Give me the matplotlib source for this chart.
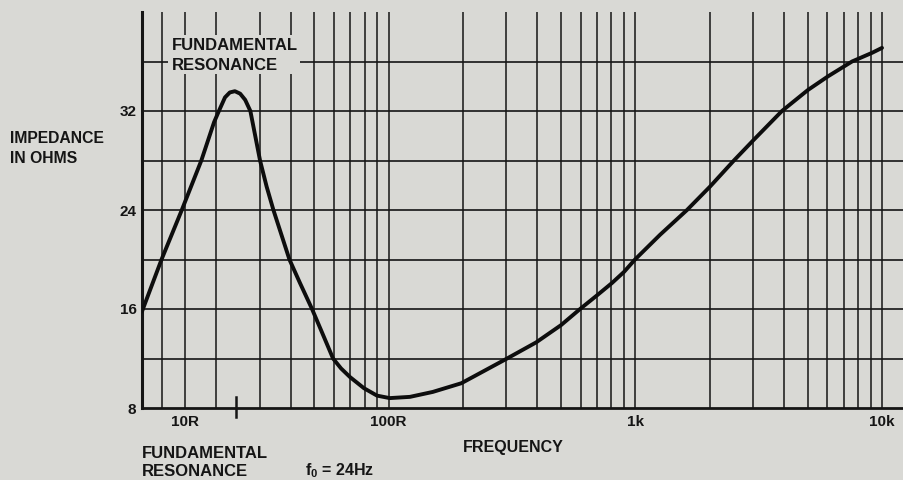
import numpy as np
import matplotlib.pyplot as plt
from matplotlib.patches import Rectangle
from matplotlib.ticker import NullLocator

BG = "#d9d9d5"
INK = "#151515"

# impedance curve (Hz, ohms)
FREQ_HZ = [10, 12.0, 14.5, 17.4, 19.6, 20.5, 21.7, 22.7, 23.8, 25.0, 26.2,
           27.5, 30.1, 32.0, 34.1, 39.6, 43.7, 48.9, 53.7, 59.5, 64.1, 69.7,
           79.4, 89.7, 101, 122, 151, 197, 302, 396, 500, 597, 699, 804, 900,
           997, 1260, 1620, 2010, 2510, 3030, 3930, 5010, 6040, 7560, 9110, 10000]
IMPEDANCE = [15.8, 20, 24, 28, 31.1, 32, 33.1, 33.5, 33.6, 33.4, 32.9,
             32, 28, 25.9, 24, 20, 18.1, 16, 14.1, 12, 11.2, 10.5,
             9.6, 9.0, 8.8, 8.9, 9.3, 10.0, 12, 13.3, 14.7, 16, 17.1, 18.1, 19.0,
             20, 22.0, 24, 25.9, 28, 29.7, 32, 33.7, 34.8, 36, 36.7, 37.1]

GRID_FREQS = [12, 15, 20, 30, 40, 50, 60, 70, 80, 90, 100,
              200, 300, 400, 500, 600, 700, 800, 900, 1000,
              2000, 3000, 4000, 5000, 6000, 7000, 8000, 9000, 10000]
GRID_OHMS = [12, 16, 20, 24, 28, 32, 36]
Y_TICKS = [8, 16, 24, 32]
X_TICKS = [15, 100, 1000, 10000]
X_LABELS = ["10R", "100R", "1k", "10k"]
F0 = 24

W, H = 904, 480
plt.rcParams["font.family"] = ["Liberation Sans", "DejaVu Sans"]
plt.rcParams["font.weight"] = "bold"
plt.rcParams["mathtext.fontset"] = "custom"
plt.rcParams["mathtext.rm"] = "Liberation Sans:bold"
plt.rcParams["mathtext.bf"] = "Liberation Sans:bold"


def label(x, y, s, size):
    # x, y in pixels from the top-left, y is the baseline
    fig.text(x / W, 1 - y / H, s, ha="left", va="baseline", fontsize=size, color=INK)


fig = plt.figure(figsize=(W / 100, H / 100), dpi=100, facecolor=BG)
ax = fig.add_axes([142 / W, 1 - 408 / H, 1 - 142 / W, 396 / H], facecolor=BG)
ax.set_xscale("log")
ax.set_xlim(10, 12280)
ax.set_ylim(8, 40)

for f in GRID_FREQS:
    ax.axvline(f, color=INK, lw=1.1, zorder=1)
for z in GRID_OHMS:
    ax.axhline(z, color=INK, lw=1.2, zorder=1)

ax.plot(FREQ_HZ, IMPEDANCE, color="#0d0d0d", lw=2.8, solid_joinstyle="round",
        solid_capstyle="round", zorder=4)

for s in ["top", "right"]:
    ax.spines[s].set_visible(False)
ax.spines["left"].set_linewidth(2.2)
ax.spines["bottom"].set_linewidth(2.0)
ax.spines["left"].set_color(INK)
ax.spines["bottom"].set_color(INK)

ax.set_yticks(Y_TICKS)
ax.set_yticklabels([str(v) for v in Y_TICKS])
ax.set_xticks(X_TICKS)
ax.set_xticklabels(X_LABELS)
ax.xaxis.set_minor_locator(NullLocator())
ax.tick_params(axis="both", length=0, labelsize=11, colors=INK)
ax.tick_params(axis="y", pad=4)
ax.tick_params(axis="x", pad=5)

# resonance marker on the frequency axis
ax.axvline(F0, ymin=-0.023, ymax=0.028, color=INK, lw=1.8, clip_on=False, zorder=5)

# gap in the grid behind the in-plot caption
ax.add_patch(Rectangle((168 / W, 1 - 74 / H), 132 / W, 39 / H, transform=fig.transFigure,
                       facecolor=BG, edgecolor="none", zorder=3))
label(172, 50, "FUNDAMENTAL", 12)
label(172, 70, "RESONANCE", 12)

label(10, 143, "IMPEDANCE", 11.3)
label(10, 163, "IN OHMS", 11.3)
label(463, 452, "FREQUENCY", 11.5)
label(142, 458, "FUNDAMENTAL", 12)
label(142, 476, "RESONANCE", 12)
label(305, 475, r"f$_0$ = 24Hz", 11.5)

fig.savefig("out.png", dpi=100, facecolor=BG)
